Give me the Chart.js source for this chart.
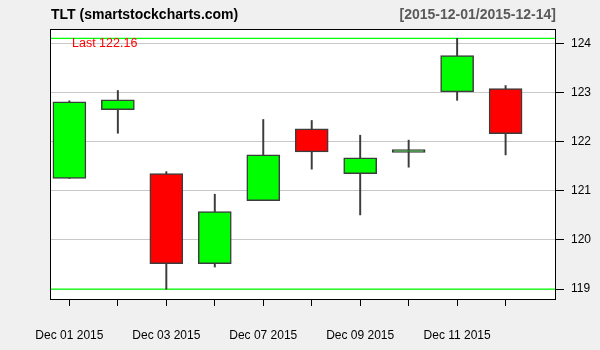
<!DOCTYPE html>
<html>
<head>
<meta charset="utf-8">
<script src="https://cdn.jsdelivr.net/npm/chart.js@4/dist/chart.umd.min.js"></script>
<style>
html,body{margin:0;padding:0;background:#f0f0f0;}
#wrap{width:600px;height:350px;}
</style>
</head>
<body>
<div id="wrap"><canvas id="c" width="600" height="350"></canvas></div>
<script>
const dates = ['Dec 01 2015','Dec 02 2015','Dec 03 2015','Dec 04 2015','Dec 07 2015','Dec 08 2015','Dec 09 2015','Dec 10 2015','Dec 11 2015','Dec 14 2015'];
const opens  = [121.25,122.65,121.35,119.52,120.80,122.26,121.35,121.78,123.01,123.08];
const highs  = [122.83,123.04,121.39,120.93,122.45,122.43,122.13,122.03,124.10,123.14];
const lows   = [121.25,122.17,119.00,119.45,120.80,121.44,120.51,121.48,122.84,121.73];
const closes = [122.81,122.85,119.52,120.58,121.73,121.79,121.67,121.84,123.75,122.16];
const yTicks = [119,120,121,122,123,124];
const labelEvery = 2;
const titleLeft = 'TLT (smartstockcharts.com)';
const titleRight = '[2015-12-01/2015-12-14]';
const lastLabel = 'Last ' + closes[closes.length-1].toFixed(2);

const xMin = -0.4, xMax = 10.04, yMin = 118.8, yMax = 124.29;
const maxHigh = Math.max(...highs), minLow = Math.min(...lows);

const bodies = dates.map((d,i)=>({x:i, y:[opens[i], closes[i]]}));
const wicks = dates.map((d,i)=>({x:i, y:[lows[i], highs[i]]}));
const bodyColors = dates.map((d,i)=> closes[i] >= opens[i] ? '#00ff00' : '#ff0000');

const framePlugin = {
  id:'frame',
  beforeDraw(chart){
    const {ctx, chartArea:a} = chart;
    ctx.save();
    ctx.fillStyle = '#ffffff';
    ctx.fillRect(a.left, a.top, a.right-a.left, a.bottom-a.top);
    ctx.restore();
  },
  afterDatasetsDraw(chart){
    const {ctx, chartArea:a} = chart;
    ctx.save();
    ctx.fillStyle = '#ff0000';
    ctx.font = '12.5px "Liberation Sans", Arial, sans-serif';
    ctx.textBaseline = 'middle';
    ctx.textAlign = 'left';
    ctx.fillText(lastLabel, 72, chart.scales.y.getPixelForValue(124));
    ctx.strokeStyle = '#000000';
    ctx.lineWidth = 1;
    ctx.strokeRect(Math.round(a.left)+0.5, Math.round(a.top)+0.5, Math.round(a.right-a.left)-1, Math.round(a.bottom-a.top));
    ctx.font = 'bold 14px "Liberation Sans", Arial, sans-serif';
    ctx.fillStyle = '#000000';
    ctx.fillText(titleLeft, 51, 15);
    ctx.textAlign = 'right';
    ctx.fillStyle = '#595959';
    ctx.fillText(titleRight, 556, 15);
    ctx.restore();
  }
};

new Chart(document.getElementById('c'), {
  type: 'bar',
  data: {
    datasets: [
      {
        type:'bar', data: bodies, backgroundColor: bodyColors, borderColor:'#3c3c3c',
        borderWidth: 1.5, borderSkipped: false, barThickness: 33, grouped: false, order: 0
      },
      {
        type:'bar', data: wicks, backgroundColor:'#3c3c3c', borderWidth:0,
        barThickness: 1.3, grouped: false, order: 1
      },
      {
        type:'line', data:[{x:xMin,y:maxHigh},{x:xMax,y:maxHigh}], borderColor:'#00ff00',
        borderWidth:1.3, pointRadius:0, order: 2
      },
      {
        type:'line', data:[{x:xMin,y:minLow},{x:xMax,y:minLow}], borderColor:'#00ff00',
        borderWidth:1.3, pointRadius:0, order: 2
      }
    ]
  },
  options: {
    responsive: false,
    animation: false,
    devicePixelRatio: 1,
    layout: { padding: { left: 50, top: 29, right: 0, bottom: 0 } },
    plugins: { legend: { display: false }, tooltip: { enabled: false }, title: { display: false } },
    scales: {
      x: {
        type: 'linear', min: xMin, max: xMax, offset: false,
        afterFit(s){ s.height = 51; },
        afterBuildTicks(s){ s.ticks = dates.map((d,i)=>({value:i})); },
        grid: { drawOnChartArea: false, offset: false, tickLength: 7, color:'#000000', tickColor:'#000000', lineWidth:1 },
        border: { display: false },
        ticks: {
          autoSkip: false, maxRotation: 0, padding: 22, color:'#000000',
          font: { family: '"Liberation Sans", Arial, sans-serif', size: 12 },
          callback(v){ return (v % labelEvery === 0) ? dates[v] : ''; }
        }
      },
      y: {
        position: 'right', min: yMin, max: yMax,
        afterFit(s){ s.width = 44; },
        afterBuildTicks(s){ s.ticks = yTicks.map(v=>({value:v})); },
        grid: { color:'#c8c8c8', tickColor:'#000000', tickLength: 8, lineWidth:1 },
        border: { display: false },
        ticks: {
          padding: 7, color:'#000000',
          font: { family: '"Liberation Sans", Arial, sans-serif', size: 12 },
          callback(v){ return String(v); }
        }
      }
    }
  },
  plugins: [framePlugin]
});
</script>
</body>
</html>
